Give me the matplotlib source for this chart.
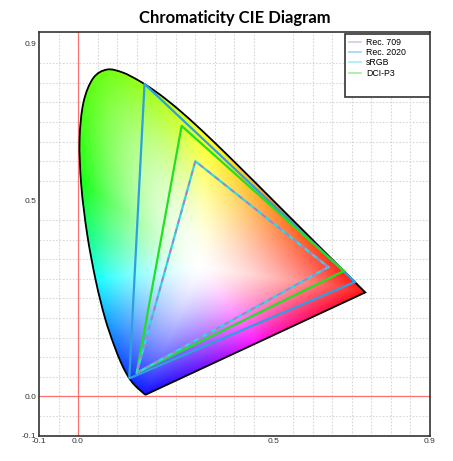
import numpy as np
import matplotlib
matplotlib.use("Agg")
import matplotlib.pyplot as plt
from matplotlib.colors import hsv_to_rgb
from matplotlib.patches import PathPatch, Rectangle
from matplotlib.path import Path
from matplotlib.lines import Line2D

# CIE 1931 2deg spectral locus, 380..700 nm every 5 nm
locus_x = [0.1741, 0.1740, 0.1738, 0.1736, 0.1733, 0.1730, 0.1726, 0.1721, 0.1714, 0.1703,
           0.1689, 0.1669, 0.1644, 0.1611, 0.1566, 0.1510, 0.1440, 0.1355, 0.1241, 0.1096,
           0.0913, 0.0687, 0.0454, 0.0235, 0.0082, 0.0039, 0.0139, 0.0389, 0.0743, 0.1142,
           0.1547, 0.1929, 0.2296, 0.2658, 0.3016, 0.3373, 0.3731, 0.4087, 0.4441, 0.4788,
           0.5125, 0.5448, 0.5752, 0.6029, 0.6270, 0.6482, 0.6658, 0.6801, 0.6915, 0.7006,
           0.7079, 0.7140, 0.7190, 0.7230, 0.7260, 0.7283, 0.7300, 0.7311, 0.7320, 0.7327,
           0.7334, 0.7340, 0.7344, 0.7346, 0.7347]
locus_y = [0.0050, 0.0050, 0.0049, 0.0049, 0.0048, 0.0048, 0.0048, 0.0048, 0.0051, 0.0058,
           0.0069, 0.0086, 0.0109, 0.0138, 0.0177, 0.0227, 0.0297, 0.0399, 0.0578, 0.0868,
           0.1327, 0.2007, 0.2950, 0.4127, 0.5384, 0.6548, 0.7502, 0.8120, 0.8338, 0.8262,
           0.8059, 0.7816, 0.7543, 0.7243, 0.6923, 0.6589, 0.6245, 0.5896, 0.5547, 0.5202,
           0.4866, 0.4544, 0.4242, 0.3965, 0.3725, 0.3514, 0.3340, 0.3197, 0.3083, 0.2993,
           0.2920, 0.2859, 0.2809, 0.2770, 0.2740, 0.2717, 0.2700, 0.2689, 0.2680, 0.2673,
           0.2666, 0.2660, 0.2656, 0.2654, 0.2653]
white_point = (0.3127, 0.3290)

# gamut primaries (R, G, B)
names = ["Rec. 709", "Rec. 2020", "sRGB", "DCI-P3"]
gamut_x = {"Rec. 709": [0.640, 0.300, 0.150],
           "Rec. 2020": [0.708, 0.170, 0.131],
           "sRGB": [0.640, 0.300, 0.150],
           "DCI-P3": [0.680, 0.265, 0.150]}
gamut_y = {"Rec. 709": [0.330, 0.600, 0.060],
           "Rec. 2020": [0.292, 0.797, 0.046],
           "sRGB": [0.330, 0.600, 0.060],
           "DCI-P3": [0.320, 0.690, 0.060]}
colors = {"Rec. 709": "#b07ac8", "Rec. 2020": "#2e9fe0",
          "sRGB": "#2ed8e8", "DCI-P3": "#22e022"}

# hue wheel around the white point: direction (deg) -> hue (deg)
wheel_angle = [-9, 40, 90, 115, 144, 187, 247, 306, 351]
wheel_hue = [0, 30, 62, 96, 120, 180, 240, 300, 360]


def smooth_path(px, py):
    # catmull-rom through the locus points, straight line of purples to close
    P = np.column_stack([px, py])
    Q = np.vstack([P[:1], P, P[-1:]])
    verts, codes = [P[0]], [Path.MOVETO]
    for i in range(1, len(Q) - 2):
        c1 = Q[i] + (Q[i + 1] - Q[i - 1]) / 6
        c2 = Q[i + 1] - (Q[i + 2] - Q[i]) / 6
        verts += [c1, c2, Q[i + 1]]
        codes += [Path.CURVE4] * 3
    verts += [P[0], P[0]]
    codes += [Path.LINETO, Path.CLOSEPOLY]
    return Path(np.array(verts), codes)


plt.rcParams["font.family"] = ["Liberation Sans", "DejaVu Sans"]

fig = plt.figure(figsize=(4.53, 4.61), dpi=100)
ax = fig.add_axes([0.086, 0.055, 0.863, 0.876])

# boundary radius as a function of direction from the white point
lx = np.array(locus_x)
ly = np.array(locus_y)
t = np.linspace(0, 1, 40)[1:-1]
bx = np.concatenate([lx, lx[-1] + (lx[0] - lx[-1]) * t])
by = np.concatenate([ly, ly[-1] + (ly[0] - ly[-1]) * t])
ang = np.arctan2(by - white_point[1], bx - white_point[0])
rad = np.hypot(bx - white_point[0], by - white_point[1])
order = np.argsort(ang)
ang, rad = ang[order], rad[order]

gx, gy = np.meshgrid(np.linspace(0, 0.75, 500), np.linspace(0, 0.85, 500))
ga = np.arctan2(gy - white_point[1], gx - white_point[0])
gr = np.hypot(gx - white_point[0], gy - white_point[1])
R = np.interp(ga, ang, rad, period=2 * np.pi)
sat = 0.93 * np.clip(gr / R, 0, 1) ** 1.5
deg = (np.degrees(ga) + 9) % 360 - 9
hue = np.interp(deg, wheel_angle, wheel_hue) / 360 % 1
img = hsv_to_rgb(np.stack([hue, sat, np.ones_like(sat)], -1))

path = smooth_path(locus_x, locus_y)
clip = PathPatch(path, transform=ax.transData, facecolor="none", edgecolor="none")
ax.add_patch(clip)
im = ax.imshow(img, origin="lower", extent=[0, 0.75, 0, 0.85],
               interpolation="bilinear", zorder=2, aspect="auto")
im.set_clip_path(clip)
ax.add_patch(PathPatch(path, facecolor="none", edgecolor="black", lw=1.3, zorder=4))

for n in ["Rec. 2020", "DCI-P3", "sRGB"]:
    ax.plot(gamut_x[n] + gamut_x[n][:1], gamut_y[n] + gamut_y[n][:1],
            color=colors[n], lw=1.6, zorder=5)
n = "Rec. 709"
ax.plot(gamut_x[n] + gamut_x[n][:1], gamut_y[n] + gamut_y[n][:1],
        color=colors[n], lw=1.2, ls=(0, (3, 3)), zorder=6)

ax.axvline(0, color="#ff7070", lw=0.9, zorder=1)
ax.axhline(0, color="#ff7070", lw=0.9, zorder=1)

ax.set_xlim(-0.1, 0.9)
ax.set_ylim(-0.1, 0.93)
ticks = [-0.1, 0.0, 0.5, 0.9]
ax.set_xticks(ticks)
ax.set_yticks(ticks)
ax.set_xticklabels(["-0.1", "0.0", "0.5", "0.9"])
ax.set_yticklabels(["-0.1", "0.0", "0.5", "0.9"])
ax.set_xticks(np.arange(-0.1, 0.91, 0.05), minor=True)
ax.set_yticks(np.arange(-0.1, 0.93, 0.05), minor=True)
ax.grid(which="minor", color="#d8d8d8", ls=(0, (1.5, 1.5)), lw=0.8, zorder=0)
ax.tick_params(which="both", length=0, labelsize=6, colors="#333333")
ax.tick_params(axis="x", pad=2)
ax.tick_params(axis="y", pad=2)
ax.set_axisbelow(True)
for s in ax.spines.values():
    s.set_linewidth(1.2)
    s.set_color("#333333")

ax.set_title("Chromaticity CIE Diagram", fontsize=12, fontweight="bold",
             family="Lato", pad=6)

handles = [Line2D([], [], color=colors[n], lw=1.2, alpha=0.45) for n in names]
ax.add_patch(Rectangle((0.783, 0.839), 0.217, 0.155, transform=ax.transAxes,
                       facecolor="white", edgecolor="#333333", lw=1.2, zorder=7))
leg = ax.legend(handles, names, loc="upper left", bbox_to_anchor=(0.783, 0.994),
                frameon=False, fontsize=6.3, handlelength=1.4, handletextpad=0.6,
                labelspacing=0.15, borderaxespad=0.1, borderpad=0.3)
leg.set_zorder(8)

fig.savefig("out.png", dpi=100)
